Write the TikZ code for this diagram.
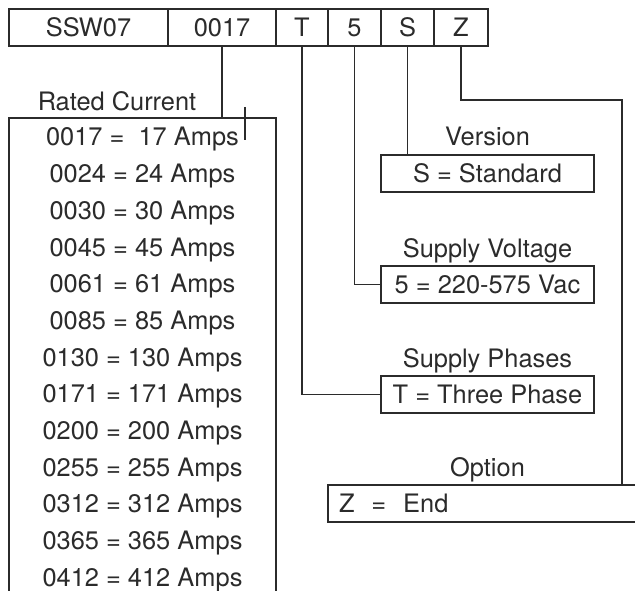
\documentclass[tikz,border=0pt]{standalone}
\usepackage{fontspec}
\setmainfont{TeX Gyre Heros}
\usepackage{tikz}
\usetikzlibrary{positioning}
\definecolor{ink}{HTML}{2B2B2B}

\begin{document}
\begin{tikzpicture}[x=1pt,y=-1pt,line width=1.8pt,color=ink,every node/.style={font=\fontsize{25.4}{30}\selectfont,text=ink},cell/.style={draw,minimum height=37pt,inner sep=0pt,outer sep=0pt,text height=18.2pt,text depth=0pt},box/.style={draw,minimum width=213pt,minimum height=37pt,inner sep=0pt,outer sep=0pt,text height=18.2pt,text depth=0pt},heading/.style={inner sep=0pt,outer sep=0pt,text depth=0pt}]
\clip (0,0) rectangle (635,591);
\node[cell,minimum width=159pt,anchor=north west] (series) at (9,9) {SSW07};
\node[cell,minimum width=108pt,right=0pt of series] (current) {0017};
\node[cell,minimum width=52pt,right=0pt of current] (phases) {T};
\node[cell,minimum width=53pt,right=0pt of phases] (voltage) {5};
\node[cell,minimum width=53pt,right=0pt of voltage] (version) {S};
\node[cell,minimum width=54pt,right=0pt of version] (option) {Z};
\node[draw,minimum width=267pt,minimum height=500pt,outer sep=0pt,anchor=north west] (ratebox) at (9,118) {};
\node[heading,anchor=south] (ratelabel) at (117,111) {Rated Current};
\foreach \row [count=\i from 0] in {0017 =\ \ 17 Amps,0024 = 24 Amps,0030 = 30 Amps,0045 = 45 Amps,0061 = 61 Amps,0085 = 85 Amps,0130 = 130 Amps,0171 = 171 Amps,0200 = 200 Amps,0255 = 255 Amps,0312 = 312 Amps,0365 = 365 Amps,0412 = 412 Amps}
  \node[anchor=base] (rate\i) at (142.5,{146+36.67*\i}) {\row};
\node[box,anchor=north west] (stdbox) at (381,155) {S = Standard};
\node[box,anchor=north west] (voltbox) at (381,266) {5 = 220-575 Vac};
\node[box,anchor=north west] (phasebox) at (381,376) {T = Three Phase};
\node[box,minimum width=0pt,text width=308pt,inner xsep=11pt,align=left,anchor=north west] (optbox) at (328,485) {Z\ \ =\ \ End};
\coordinate (optmid) at (phasebox.south |- optbox.north);
\node[heading,above=9pt of stdbox] (verlabel) {Version};
\node[heading,above=9pt of voltbox] (voltlabel) {Supply Voltage};
\node[heading,above=9pt of phasebox] (phaselabel) {Supply Phases};
\node[heading,above=9pt of optmid] (optlabel) {Option};
\coordinate (optturn) at (622,100);
\draw (current.south) -- (current.south |- ratebox.north);
\draw (245,107) -- (245,140);
\draw (phases.south) |- (phasebox.west);
\draw (voltage.south) |- (voltbox.west);
\draw (version.south) -- (version.south |- stdbox.north);
\draw (option.south) |- (optturn) -- (optturn |- optbox.north);
\end{tikzpicture}
\end{document}
